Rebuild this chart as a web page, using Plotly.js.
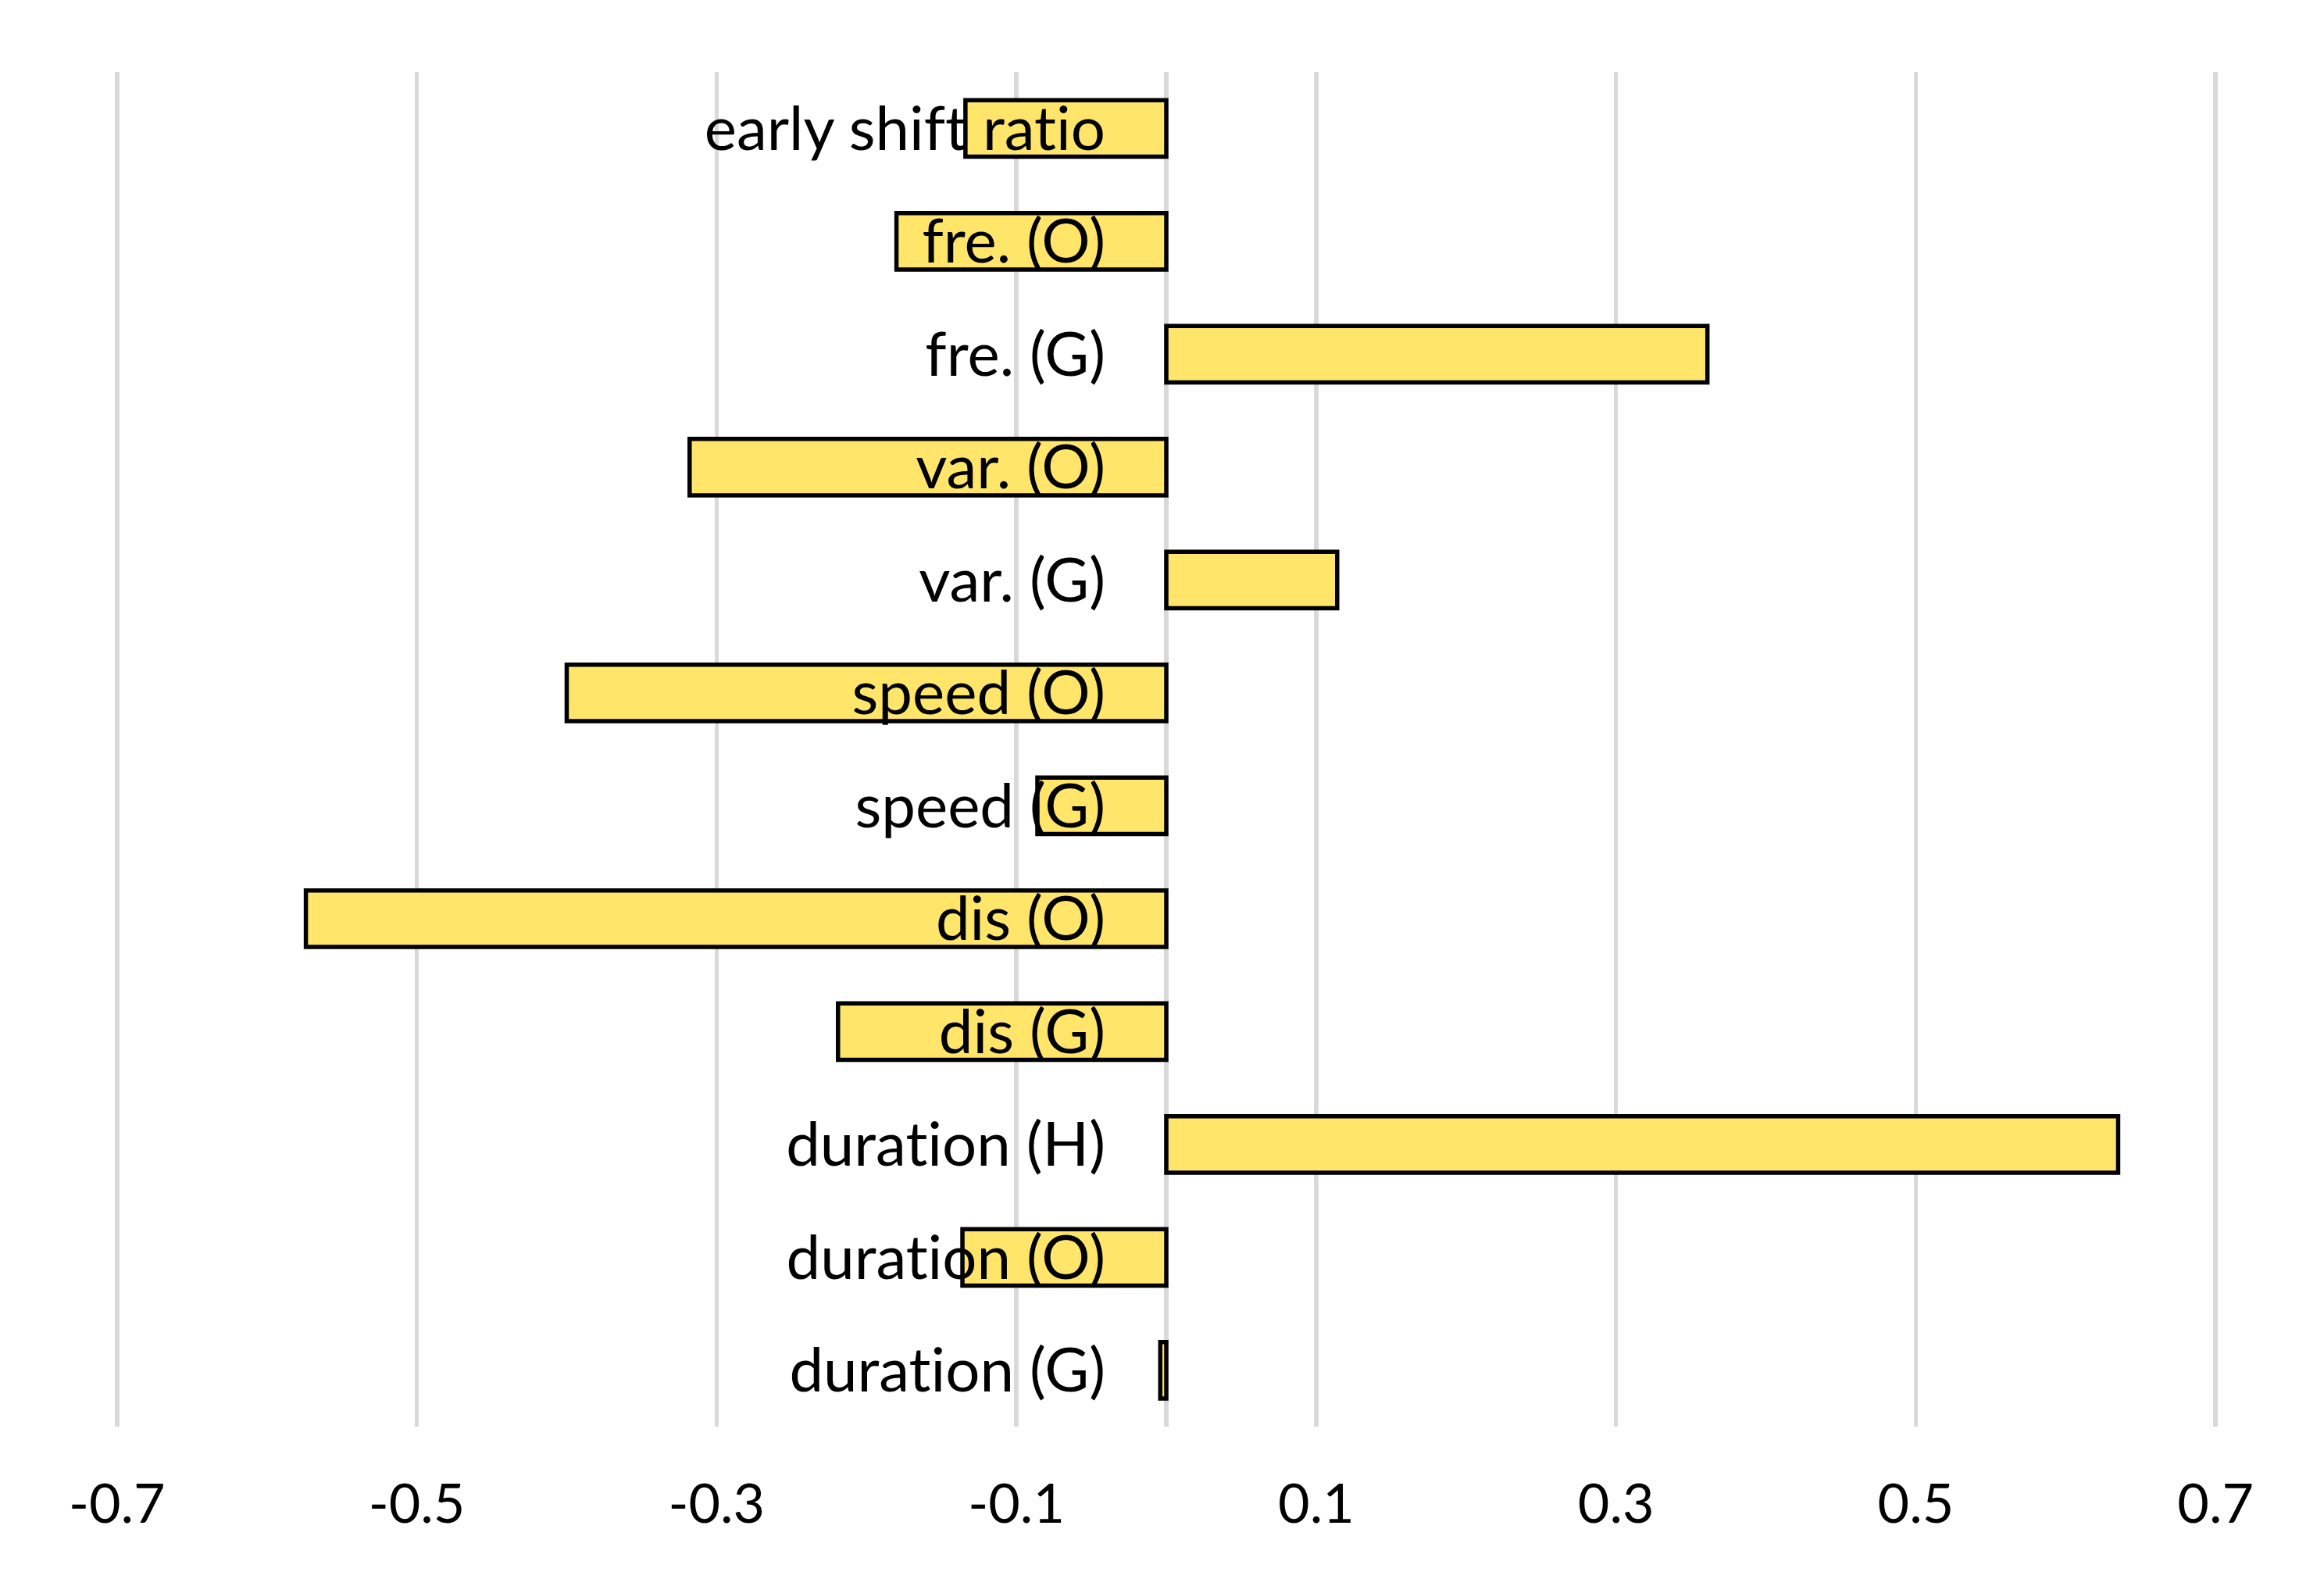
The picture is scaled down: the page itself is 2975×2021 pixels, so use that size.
<!DOCTYPE html>
<html>
<head>
<meta charset="utf-8">
<script src="https://cdn.plot.ly/plotly-3.0.1.min.js"></script>
<style>
html,body{margin:0;padding:0;background:#fff;}
#chart{width:2975px;height:2021px;}
#chart text{font-variant-ligatures:none !important;font-feature-settings:"liga" 0, "clig" 0 !important;}
</style>
</head>
<body>
<div id="chart"></div>
<script>
// Categories listed top to bottom
const categories = ["early shift ratio", "fre. (O)", "fre. (G)", "var. (O)", "var. (G)", "speed (O)", "speed (G)", "dis (O)", "dis (G)", "duration (H)", "duration (O)", "duration (G)"];
const values = [-0.134, -0.180, 0.361, -0.318, 0.114, -0.400, -0.086, -0.574, -0.219, 0.635, -0.136, -0.004];
const tickValues = [-0.7, -0.5, -0.3, -0.1, 0.1, 0.3, 0.5, 0.7];
const tickLabels = ["-0.7", "-0.5", "-0.3", "-0.1", "0.1", "0.3", "0.5", "0.7"];
const xRange = [-0.7025, 0.7025];

const trace = {
  type: 'bar',
  orientation: 'h',
  y: categories,
  x: values,
  width: 0.5,
  marker: { color: '#FFE66B', line: { color: '#000000', width: 5.5 } },
  hoverinfo: 'none'
};

const layout = {
  width: 2975,
  height: 2021,
  margin: { l: 145, r: 134, t: 92, b: 195 },
  paper_bgcolor: '#ffffff',
  plot_bgcolor: '#ffffff',
  showlegend: false,
  font: { family: 'Lato, "Open Sans", sans-serif', color: '#000000', size: 78 },
  xaxis: {
    range: xRange,
    tickvals: tickValues,
    ticktext: tickLabels,
    showgrid: true,
    gridcolor: '#d9d9d9',
    gridwidth: 5.5,
    zeroline: true,
    zerolinecolor: '#d9d9d9',
    zerolinewidth: 5.5,
    showline: false,
    ticks: '',
    ticklabelstandoff: 52,
    tickfont: { size: 70, family: 'Lato, "Open Sans", sans-serif', color: '#000' },
    fixedrange: true
  },
  yaxis: {
    type: 'category',
    autorange: 'reversed',
    anchor: 'free',
    position: (0 - xRange[0]) / (xRange[1] - xRange[0]),
    showgrid: false,
    zeroline: false,
    showline: false,
    ticks: '',
    ticklabelstandoff: 78,
    tickfont: { size: 78, family: 'Lato, "Open Sans", sans-serif', color: '#000' },
    layer: 'above traces',
    fixedrange: true
  }
};

Plotly.newPlot('chart', [trace], layout, { displayModeBar: false, staticPlot: true });
</script>
</body>
</html>
